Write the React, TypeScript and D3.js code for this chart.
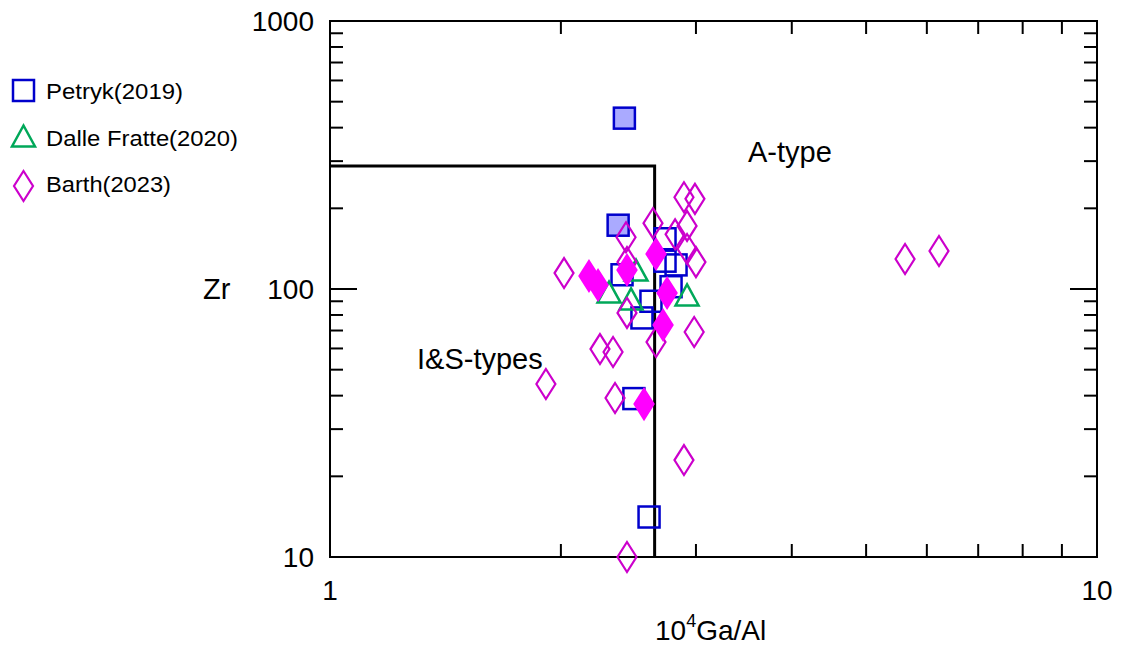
import React from "react";
import * as d3 from "d3";

// Ga/Al (x 10^4) and Zr (ppm) for each data source
const petrykGaAl = [2.42, 2.375, 2.734, 2.734, 2.826, 2.403, 2.784, 2.621, 2.551, 2.49, 2.606];
const petrykZr = [434, 173, 154, 127, 123, 113, 102, 90, 78, 39, 14.1];
const petrykFilled = [true, true, false, false, false, false, false, false, false, false, false];

const dalleGaAl = [2.311, 2.506, 2.469, 2.921];
const dalleZr = [97.4, 117.7, 91.8, 95.0];

const barthGaAl = [
  1.912, 2.019, 2.249, 2.339, 2.353, 2.439, 2.432, 2.637, 2.894, 2.991, 2.921, 2.818,
  2.439, 2.921, 3.0, 2.984, 2.894, 2.661, 2.439, 5.62, 6.223,
  2.176, 2.236, 2.439, 2.661, 2.751, 2.718, 2.567,
];
const barthZr = [
  44.2, 114.7, 59.7, 58.2, 39.2, 10, 156, 176, 220, 217, 172, 160,
  126, 141, 126, 69.1, 23.0, 63.4, 81.4, 129.4, 138.6,
  111.8, 103.5, 117.7, 135.1, 96.6, 73.4, 37.2,
];
const barthFilled = [
  false, false, false, false, false, false, false, false, false, false, false, false,
  false, false, false, false, false, false, false, false, false,
  true, true, true, true, true, true, true,
];

// Whalen et al. discrimination boundary
const boundaryGaAl = 2.65;
const boundaryZr = 288;

const xMajor = [1, 10];
const xMinor = [2, 3, 4, 5, 6, 7, 8, 9];
const yMajor = [10, 100, 1000];
const yMinor = [20, 30, 40, 50, 60, 70, 80, 90, 200, 300, 400, 500, 600, 700, 800, 900];
const xTickLabels = ["1", "10"];
const yTickLabels = ["10", "100", "1000"];

const legendNames = ["Petryk(2019)", "Dalle Fratte(2020)", "Barth(2023)"];

const BLUE = "#0000CC";
const BLUE_FILL = "#AAAAFF";
const GREEN = "#00A859";
const MAGENTA = "#CC00CC";
const MAGENTA_FILL = "#FF00FF";
const FONT = "'Liberation Sans', Arial, sans-serif";

const W = 1121;
const H = 646;
const left = 330;
const right = 1097;
const top = 21;
const bottom = 557;

const x = d3.scaleLog().domain([1, 10]).range([left, right]);
const y = d3.scaleLog().domain([10, 1000]).range([bottom, top]);

const SQ = 21;
const DW = 9.5;
const DH = 15;

function Square({ cx, cy, filled }: { cx: number; cy: number; filled: boolean }) {
  return (
    <rect
      x={cx - SQ / 2}
      y={cy - SQ / 2}
      width={SQ}
      height={SQ}
      fill={filled ? BLUE_FILL : "none"}
      stroke={BLUE}
      strokeWidth={2.5}
    />
  );
}

function Triangle({ cx, cy }: { cx: number; cy: number }) {
  const hw = 11.5;
  const hh = 10.5;
  return (
    <path
      d={`M${cx},${cy - hh}L${cx + hw},${cy + hh}L${cx - hw},${cy + hh}Z`}
      fill="none"
      stroke={GREEN}
      strokeWidth={2.5}
    />
  );
}

function Diamond({ cx, cy, filled }: { cx: number; cy: number; filled: boolean }) {
  return (
    <path
      d={`M${cx},${cy - DH}L${cx + DW},${cy}L${cx},${cy + DH}L${cx - DW},${cy}Z`}
      fill={filled ? MAGENTA_FILL : "none"}
      stroke={filled ? MAGENTA_FILL : MAGENTA}
      strokeWidth={2.2}
    />
  );
}

export default function App() {
  const ticks: React.ReactNode[] = [];
  const major = 27;
  const minor = 13;
  xMajor.concat(xMinor).forEach((v, i) => {
    const len = xMajor.includes(v) ? major : minor;
    const px = x(v);
    ticks.push(<line key={`xb${i}`} x1={px} x2={px} y1={bottom} y2={bottom - len} />);
    ticks.push(<line key={`xt${i}`} x1={px} x2={px} y1={top} y2={top + len} />);
  });
  yMajor.concat(yMinor).forEach((v, i) => {
    const len = yMajor.includes(v) ? major : minor;
    const py = y(v);
    ticks.push(<line key={`yl${i}`} x1={left} x2={left + len} y1={py} y2={py} />);
    ticks.push(<line key={`yr${i}`} x1={right} x2={right - len} y1={py} y2={py} />);
  });

  return (
    <svg
      width={W}
      height={H}
      style={{ position: "absolute", left: 0, top: 0, background: "#fff" }}
      fontFamily={FONT}
    >
      <rect x={0} y={0} width={W} height={H} fill="#fff" />

      {/* frame and ticks */}
      <g stroke="#000" strokeWidth={2} fill="none">
        <rect x={left} y={top} width={right - left} height={bottom - top} />
        {ticks}
      </g>

      {/* tick labels */}
      <g fontSize={28} fill="#000">
        {yMajor.map((v, i) => (
          <text key={`yl${i}`} x={314} y={y(v) + 10} textAnchor="end">
            {yTickLabels[i]}
          </text>
        ))}
        {xMajor.map((v, i) => (
          <text key={`xl${i}`} x={x(v)} y={600} textAnchor="middle">
            {xTickLabels[i]}
          </text>
        ))}
      </g>

      {/* axis titles */}
      <text x={203} y={299} fontSize={29}>Zr</text>
      <text x={655} y={640} fontSize={28}>
        10<tspan fontSize={18} dy={-13}>4</tspan>
        <tspan dy={13}>Ga/Al</tspan>
      </text>

      {/* field boundary */}
      <path
        d={`M${x(1)},${y(boundaryZr)}H${x(boundaryGaAl)}V${y(10)}`}
        fill="none"
        stroke="#000"
        strokeWidth={3}
      />
      <text x={748} y={162} fontSize={29}>A-type</text>
      <text x={417} y={369} fontSize={29}>I&amp;S-types</text>

      {/* data */}
      <g>
        {petrykGaAl.map((v, i) => (
          <Square key={`p${i}`} cx={x(v)} cy={y(petrykZr[i])} filled={petrykFilled[i]} />
        ))}
        {dalleGaAl.map((v, i) => (
          <Triangle key={`d${i}`} cx={x(v)} cy={y(dalleZr[i])} />
        ))}
        {barthGaAl.map((v, i) => (
          <Diamond key={`b${i}`} cx={x(v)} cy={y(barthZr[i])} filled={barthFilled[i]} />
        ))}
      </g>

      {/* legend */}
      <g fontSize={22}>
        <Square cx={23.5} cy={90.5} filled={false} />
        <text x={46} y={99} textLength={137} lengthAdjust="spacingAndGlyphs">{legendNames[0]}</text>
        <Triangle cx={23.5} cy={136} />
        <text x={46} y={146} textLength={192} lengthAdjust="spacingAndGlyphs">{legendNames[1]}</text>
        <Diamond cx={23.5} cy={186} filled={false} />
        <text x={46} y={192} textLength={125} lengthAdjust="spacingAndGlyphs">{legendNames[2]}</text>
      </g>
    </svg>
  );
}
